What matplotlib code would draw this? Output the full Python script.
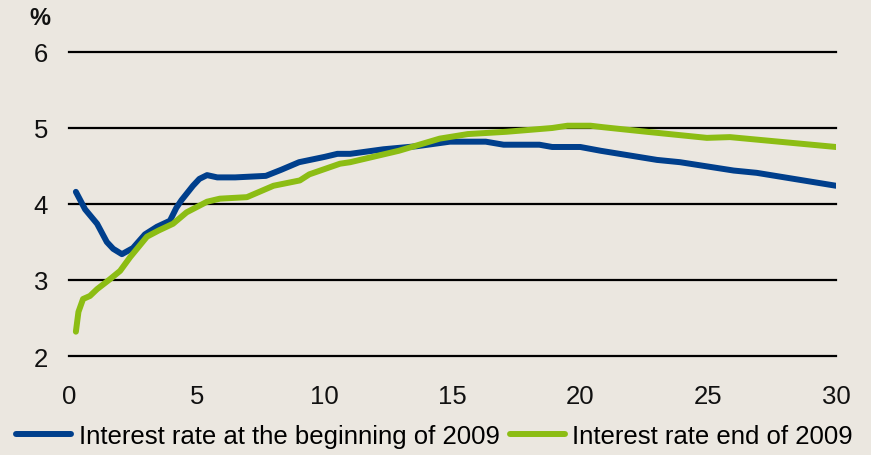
import matplotlib.pyplot as plt
import matplotlib

matplotlib.rcParams.update({'font.family': ['Liberation Sans', 'DejaVu Sans'], 'font.size': 18.5})

# maturity (years) and yield (%)
x_begin = [0.27, 0.63, 1.1, 1.48, 1.73, 2.07, 2.5, 2.97, 3.44, 3.95, 4.2, 4.4, 4.85, 5.1, 5.4,
           5.8, 6.5, 7.7, 8.3, 9.0, 10.0, 10.5, 11.0, 12.3, 13.6, 14.9, 16.3, 17.0, 18.4, 18.9,
           20.0, 20.8, 23.0, 23.9, 26.0, 26.9, 30.0]
y_begin = [4.16, 3.93, 3.74, 3.5, 3.41, 3.34, 3.42, 3.6, 3.7, 3.78, 3.95, 4.05, 4.24, 4.33, 4.38,
           4.35, 4.35, 4.37, 4.45, 4.55, 4.62, 4.66, 4.66, 4.72, 4.76, 4.82, 4.82, 4.78, 4.78, 4.75,
           4.75, 4.7, 4.58, 4.55, 4.44, 4.41, 4.24]

x_end = [0.27, 0.37, 0.55, 0.82, 1.1, 1.6, 2.0, 2.39, 3.05, 3.5, 4.07, 4.6, 5.4, 5.9, 6.96, 8.0,
         9.03, 9.4, 10.6, 11.0, 12.9, 14.5, 15.6, 17.1, 18.9, 19.5, 20.4, 20.9, 22.6, 24.95, 25.85, 30.0]
y_end = [2.32, 2.58, 2.75, 2.79, 2.88, 3.01, 3.12, 3.30, 3.57, 3.65, 3.74, 3.89, 4.03, 4.07, 4.09, 4.24,
         4.31, 4.39, 4.53, 4.55, 4.70, 4.86, 4.92, 4.95, 5.0, 5.03, 5.03, 5.01, 4.95, 4.87, 4.88, 4.75]

bg = '#ebe7e0'
fig = plt.figure(figsize=(8.71, 4.56), dpi=100, facecolor=bg)
ax = fig.add_axes([0.0792, 0.2171, 0.8806, 0.6667], facecolor=bg)

ax.plot(x_begin, y_begin, color='#003f8c', lw=4.3, solid_capstyle='round', solid_joinstyle='round',
        label='Interest rate at the beginning of 2009', zorder=3)
ax.plot(x_end, y_end, color='#8cbd14', lw=4.3, solid_capstyle='round', solid_joinstyle='round',
        label='Interest rate end of 2009', zorder=3)

ax.set_xlim(0, 30)
ax.set_ylim(2, 6)
ax.set_xticks([0, 5, 10, 15, 20, 25, 30])
ax.set_yticks([2, 3, 4, 5, 6])
ax.yaxis.grid(True, color='black', lw=1.6)
for gl in ax.get_ygridlines():
    gl.set_clip_on(False)
ax.set_axisbelow(True)
for s in ax.spines.values():
    s.set_visible(False)
ax.tick_params(axis='both', length=0, labelsize=18.5, colors='#111111')
ax.tick_params(axis='y', pad=15)
ax.tick_params(axis='x', pad=20)

fig.text(0.034, 0.946, '%', fontsize=17, fontweight='bold', color='#111111')

fig.legend(loc='center left', bbox_to_anchor=(0.018, 0.042), ncol=2, frameon=False,
           handlelength=2.14, handletextpad=0.31, columnspacing=0.39, borderpad=0,
           borderaxespad=0, fontsize=18.5)

plt.savefig('out.png', dpi=100, facecolor=bg)
